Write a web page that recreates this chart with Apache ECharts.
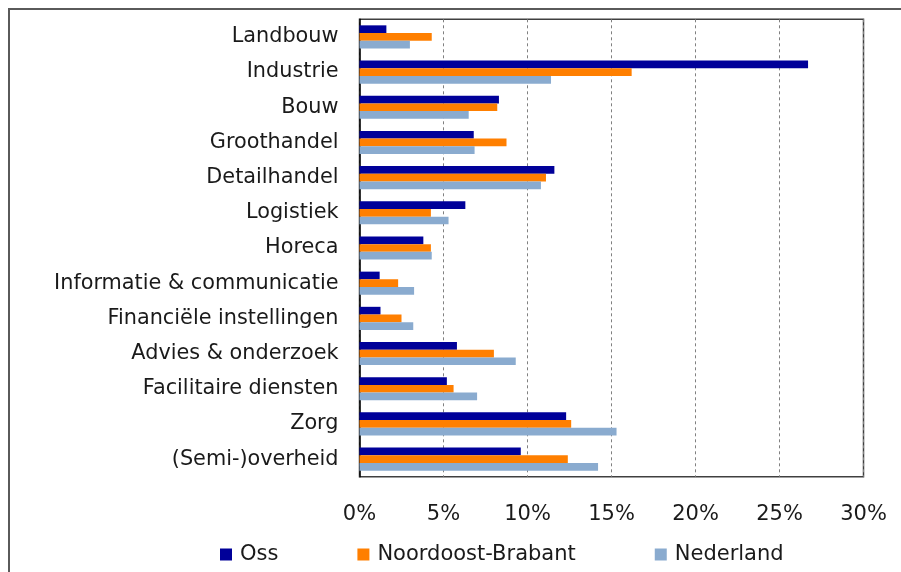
<!DOCTYPE html>
<html>
<head>
<meta charset="utf-8">
<script src="https://cdn.jsdelivr.net/npm/echarts@6/dist/echarts.min.js"></script>
<style>
html, body { margin: 0; padding: 0; background: #fff; }
#main { width: 901px; height: 572px; }
</style>
</head>
<body>
<div id="main"></div>
<script>
var sectoren = ['Landbouw', 'Industrie', 'Bouw', 'Groothandel', 'Detailhandel', 'Logistiek', 'Horeca',
	'Informatie & communicatie', 'Financiële instellingen', 'Advies & onderzoek',
	'Facilitaire diensten', 'Zorg', '(Semi-)overheid'];
var oss = [1.6, 26.7, 8.3, 6.8, 11.6, 6.3, 3.8, 1.2, 1.25, 5.8, 5.2, 12.3, 9.6];
var noordoostBrabant = [4.3, 16.2, 8.2, 8.75, 11.1, 4.25, 4.25, 2.3, 2.5, 8.0, 5.6, 12.6, 12.4];
var nederland = [3.0, 11.4, 6.5, 6.85, 10.8, 5.3, 4.3, 3.25, 3.2, 9.3, 7.0, 15.3, 14.2];
var ticks = [0, 5, 10, 15, 20, 25, 30];

var font = "'DejaVu Sans', Verdana, sans-serif";
var myChart = echarts.init(document.getElementById('main'));

function serie(naam, data, kleur) {
	return {
		name: naam,
		type: 'bar',
		data: data,
		barWidth: 7.7,
		barGap: '0%',
		itemStyle: { color: kleur },
		emphasis: { disabled: true }
	};
}

var option = {
	animation: false,
	backgroundColor: '#fff',
	textStyle: { fontFamily: font },
	graphic: [{
		type: 'rect',
		shape: { x: 9, y: 9, width: 1000, height: 1000 },
		style: { fill: 'none', stroke: '#5a5a5a', lineWidth: 2 },
		z: -1
	}],
	grid: {
		left: 359.5,
		top: 19.3,
		width: 504,
		height: 457.4,
		show: true,
		borderColor: '#404040',
		borderWidth: 1.5,
		backgroundColor: '#fff'
	},
	legend: {
		left: 215,
		top: 539,
		itemWidth: 12,
		itemHeight: 12,
		itemGap: 79,
		icon: 'rect',
		textStyle: { fontFamily: font, fontSize: 21, color: '#1a1a1a', padding: [0, 0, 0, 3] },
		data: ['Oss', 'Noordoost-Brabant', 'Nederland']
	},
	xAxis: {
		type: 'value',
		min: ticks[0],
		max: ticks[ticks.length - 1],
		interval: 5,
		axisLine: { show: false },
		axisTick: { show: false },
		axisLabel: {
			formatter: '{value}%',
			fontFamily: font,
			fontSize: 21,
			color: '#1a1a1a',
			margin: 27
		},
		splitLine: { lineStyle: { color: '#808080', type: [3, 3], width: 1 } }
	},
	yAxis: {
		type: 'category',
		inverse: true,
		data: sectoren,
		axisLine: { show: true, lineStyle: { color: '#000', width: 1.5 } },
		axisTick: { show: false },
		axisLabel: {
			fontFamily: font,
			fontSize: 20.8,
			color: '#1a1a1a',
			margin: 21
		}
	},
	series: [
		serie('Oss', oss, '#000099'),
		serie('Noordoost-Brabant', noordoostBrabant, '#ff7f00'),
		serie('Nederland', nederland, '#8aabcf')
	]
};

myChart.setOption(option);
</script>
</body>
</html>
